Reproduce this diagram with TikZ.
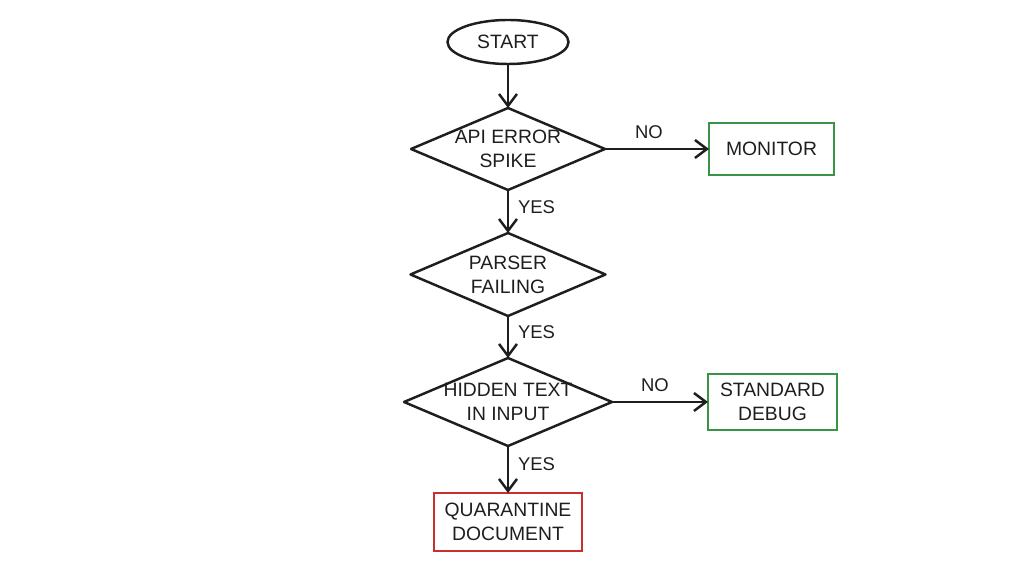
\documentclass[tikz,border=0pt]{standalone}
\usepackage{fontspec}
\setmainfont{Liberation Sans}
\usepackage{xcolor}
\usetikzlibrary{shapes.geometric, arrows.meta, positioning}
\definecolor{okgreen}{HTML}{3A9446}
\definecolor{alertred}{HTML}{C8302F}
\definecolor{ink}{HTML}{1E1E1E}

\begin{document}
\begin{tikzpicture}[
    font=\fontsize{11}{13.5}\selectfont,
    line width=1.4pt,
    draw=ink, text=ink,
    >={Straight Barb[length=2.4mm, width=3.6mm]},
    terminal/.style={ellipse, draw=ink, minimum width=2.42cm, minimum height=0.88cm, inner sep=0pt, outer sep=0pt},
    decision/.style={rectangle, align=center, inner sep=0pt, outer sep=0pt},
    outcome/.style={rectangle, draw=#1, line width=1.2pt, align=center, inner sep=0pt, outer sep=0pt},
    answer/.style={font=\fontsize{10.5}{12}\selectfont, inner sep=2pt},
]
    \useasboundingbox (0,0) rectangle (20.48,-11.44);

    \node[terminal] (start) at (10.16,-0.84) {START};
    \node[decision, minimum width=3.88cm, minimum height=1.64cm, below=0.88cm of start] (spike) {API ERROR\\SPIKE};
    \node[decision, minimum width=3.9cm, minimum height=1.66cm, below=0.86cm of spike] (parser) {PARSER\\FAILING};
    \node[decision, minimum width=4.16cm, minimum height=1.76cm, below=0.84cm of parser] (hidden) {HIDDEN TEXT\\IN INPUT};
    \node[outcome=alertred, minimum width=2.96cm, minimum height=1.16cm, below=0.94cm of hidden] (quarantine) {QUARANTINE\\DOCUMENT};

    % outcomes on the right
    \node[outcome=okgreen, minimum width=2.5cm, minimum height=1.04cm, right=2.08cm of spike] (monitor) {MONITOR};
    \node[outcome=okgreen, minimum width=2.58cm, minimum height=1.12cm, right=1.92cm of hidden] (debug) {STANDARD\\DEBUG};

    \foreach \d in {spike, parser, hidden}
        \draw[line join=round] (\d.north) -- (\d.east) -- (\d.south) -- (\d.west) -- cycle;

    \draw[->] (start.south) -- (spike.north);
    \draw[->] (spike.south) -- node[answer, right=3pt, yshift=0.08cm] (yes1) {YES} (parser.north);
    \draw[->] (parser.south) -- node[answer, right=3pt, yshift=0.1cm] (yes2) {YES} (hidden.north);
    \draw[->] (hidden.south) -- node[answer, right=3pt, yshift=0.1cm] (yes3) {YES} (quarantine.north);

    \draw[->] (spike.east) -- node[answer, above=3pt, xshift=-0.16cm] (no1) {NO} (monitor.west);
    \draw[->] (hidden.east) -- node[answer, above=3pt, xshift=-0.1cm] (no2) {NO} (debug.west);
\end{tikzpicture}
\end{document}
